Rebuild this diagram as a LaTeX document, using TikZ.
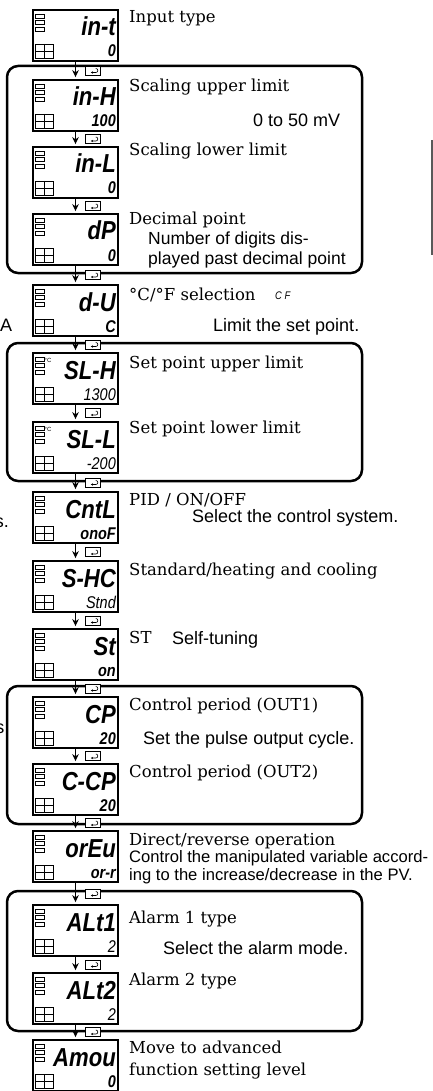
\documentclass[tikz,border=0pt]{standalone}
\usepackage{fontspec}
\setmainfont{DejaVu Serif}
\setsansfont{Liberation Sans}
\newfontfamily\segfont{Liberation Sans}[FakeStretch=0.85]
\usetikzlibrary{positioning,arrows.meta,calc}

\begin{document}
\begin{tikzpicture}[
    x=1pt, y=-1pt,
    panel/.style={draw, line width=1.8pt, minimum width=85pt, minimum height=51pt, inner sep=0pt},
    lamp/.style={draw, line width=0.7pt},
    segtop/.style={font=\segfont\bfseries\itshape\fontsize{26}{26}\selectfont, inner sep=0pt, anchor=base east},
    segbot/.style={font=\segfont\bfseries\itshape\fontsize{17}{17}\selectfont, inner sep=0pt, anchor=base east},
    lbl/.style={font=\fontsize{16.5}{20}\selectfont, inner sep=0pt, anchor=base west},
    note/.style={font=\sffamily\fontsize{18}{21}\selectfont, inner sep=0pt, anchor=base west},
    modearrow/.style={-{Stealth[length=7pt, width=6.5pt]}, line width=1.4pt, shorten >=2pt},
    modekey/.style={draw, fill=white, line width=0.7pt, minimum width=15pt, minimum height=9pt, inner sep=0pt,
      path picture={\draw[line width=0.6pt, -{Stealth[length=2.2pt, width=2.4pt]}]
        ([shift={(3pt,2pt)}]path picture bounding box.center) arc[start angle=90, end angle=-90, radius=2pt] -- ++(-7pt,0pt);}},
    grp/.style={line width=2.5pt, rounded corners=11pt},
  ]
  \useasboundingbox (0,0) rectangle (433,1091);
  \clip (0,0) rectangle (433,1091);

  % groups of parameters
  \draw[grp] (7,66) rectangle (362,273);
  \draw[grp] (7,343) rectangle (362,481);
  \draw[grp] (7,686) rectangle (362,824);
  \draw[grp] (7,891) rectangle (362,1031);

  % displays with their parameter names
  \foreach \i/\y/\seg/\val/\ly/\lab in {
      1/10/{in-t}/{0}/23/{Input type},
      2/80/{in-H}/{100}/92/{Scaling upper limit},
      3/147/{in-L}/{0}/156/{Scaling lower limit},
      4/214/{dP}/{0}/225/{Decimal point},
      5/285/{d-U}/{C}/300/{°C/°F selection},
      6/353/{SL-H}/{\mdseries 1300}/368/{Set point upper limit},
      7/422/{SL-L}/{\mdseries -200}/433/{Set point lower limit},
      8/492/{CntL}/{onoF}/505/{PID / ON/OFF},
      9/561/{S-HC}/{\mdseries Stnd}/575/{Standard/heating and cooling},
      10/629/{St}/{on}/643/{ST},
      11/697/{CP}/{20}/710/{Control period (OUT1)},
      12/764/{C-CP}/{20}/777/{Control period (OUT2)},
      13/831/{orEu}/{or-r}/845/{Direct/reverse operation},
      14/905/{ALt1}/{\mdseries 2}/923/{Alarm 1 type},
      15/973/{ALt2}/{\mdseries 2}/985/{Alarm 2 type},
      16/1040/{Amou}/{0}/1053/{Move to advanced}} {
    \node[panel] (d\i) at (75.5,\y+25.5) {};
    \foreach \r in {4,10.5,17}
      \draw[lamp] (35,\y+\r) rectangle +(9,4);
    \draw[lamp] (35,\y+34) rectangle (53,\y+48) (44,\y+34) -- (44,\y+48) (35,\y+41) -- (53,\y+41);
    \node[segtop] (m\i) at (116,\y+26) {\seg};
    \node[segbot] (v\i) at (116,\y+47) {\val};
    \node[lbl] (t\i) at (129,\ly) {\lab};
  }
  \node[lbl] (t16b) at (129,1075) {function setting level};
  \foreach \i in {6,7}
    \node[font=\sffamily\fontsize{6}{6}\selectfont, inner sep=0pt] (u\i) at ($(d\i.north west)+(16,8)$) {°C};
  \node[font=\segfont\itshape\fontsize{11}{11}\selectfont, inner sep=0pt, anchor=base west] (cf) at (275,299) {C F};

  % mode key steps
  \foreach \i [evaluate=\i as \j using int(\i+1)] in {1,...,15}
    \draw[modearrow] (d\i.south) -- (d\j.north) node[modekey, pos=0.5, right=9.5pt] (k\i) {};

  % notes
  \node[note] (n1) at (253,127) {0 to 50 mV};
  \node[note, font=\sffamily\fontsize{17.5}{21}\selectfont] (n2) at (148,244) {Number of digits dis-};
  \node[note, font=\sffamily\fontsize{17.5}{21}\selectfont] (n3) at (148,264) {played past decimal point};
  \node[note] (n4) at (213,331) {Limit the set point.};
  \node[note] (n5) at (192,522) {Select the control system.};
  \node[note] (n6) at (172,644) {Self-tuning};
  \node[note] (n7) at (143,744) {Set the pulse output cycle.};
  \node[note, font=\sffamily\fontsize{16.6}{20}\selectfont] (n8) at (129,862) {Control the manipulated variable accord-};
  \node[note, font=\sffamily\fontsize{16.6}{20}\selectfont] (n9) at (129,880) {ing to the increase/decrease in the PV.};
  \node[note] (n10) at (163,954) {Select the alarm mode.};

  % cut text of the next column
  \node[note] (pa) at (0,331) {A};
  \node[note, anchor=base east] (pb) at (9,527) {s.};
  \node[note, anchor=base east] (pc) at (4.5,733) {s};
  \draw[gray!70!black, line width=1.3pt] (432,140) -- (432,255);
\end{tikzpicture}
\end{document}
